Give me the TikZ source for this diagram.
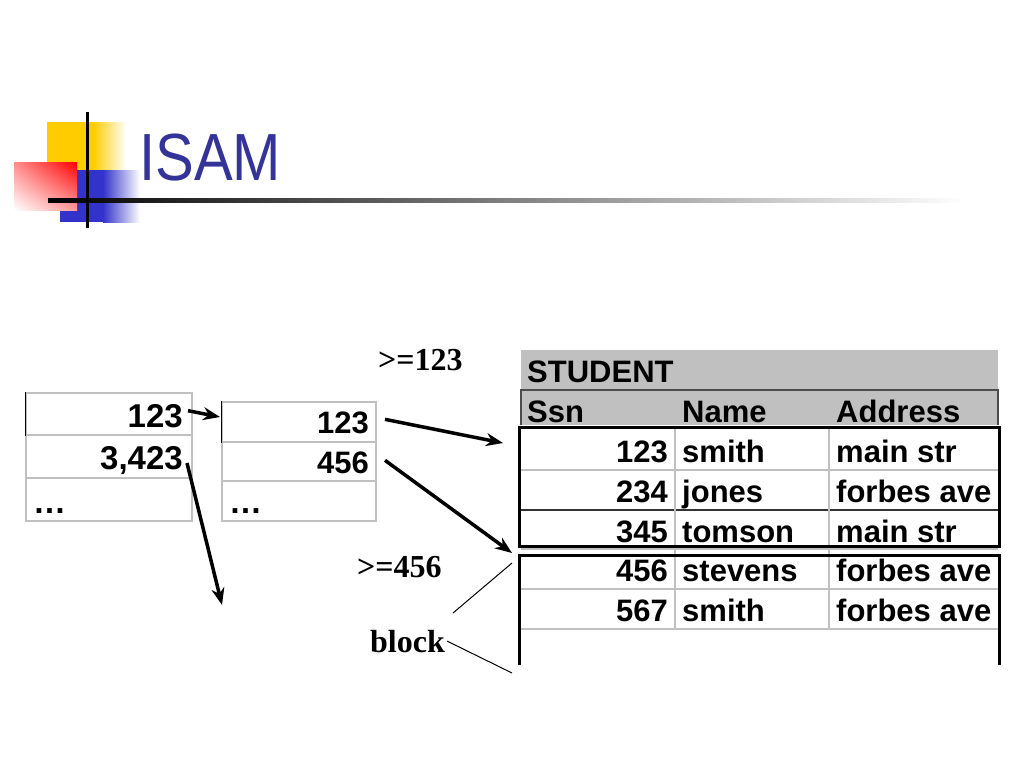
\documentclass[tikz,border=0pt]{standalone}
\usepackage{fontspec}
\setmainfont{Liberation Sans}
\newfontfamily\timesfont{Liberation Serif}
\usetikzlibrary{arrows.meta, shadings}
\definecolor{isamblue}{RGB}{51,51,153}
\definecolor{gridgray}{RGB}{192,192,192}
\definecolor{logoyellow}{RGB}{255,204,0}
\definecolor{logoblue}{RGB}{51,51,204}
\tikzstyle{arrow} = [line width=3.5pt,-{Stealth[length=17pt,width=13pt]}]
\tikzstyle{cell} = [draw=gridgray, line width=1.2pt, inner sep=0pt]
\tikzstyle{val} = [inner sep=0pt, font=\fontsize{31}{36}\selectfont\bfseries]
\tikzstyle{bigval} = [inner sep=0pt, font=\fontsize{33}{38}\selectfont\bfseries]
\tikzstyle{lbl} = [inner sep=2pt, font=\timesfont\fontsize{32}{38}\selectfont\bfseries]

\begin{document}
\begin{tikzpicture}[x=1pt, y=-1pt]
        \useasboundingbox (0,0) rectangle (1024,768);
        % Logo
        \fill[logoyellow] (47,122) rectangle (94,170);
        \shade[left color=logoyellow, right color=white] (93,122) rectangle (126,170);
        \fill[logoblue] (60,170) rectangle (104,222);
        \shade[left color=logoblue, right color=white] (103,170) rectangle (140,222);
        \shade[upper right=red, upper left=red!45!white, lower right=red!40!white, lower left=white] (14,162) rectangle (77,210);
        \shade[left color=black, middle color=black!60, right color=white] (48,198) rectangle (965,202);
        \draw[line width=3pt] (87,112) -- (87,228);
        \node[anchor=base west, inner sep=0pt, text=isamblue, font=\fontsize{58}{66}\selectfont] (title) at (139,180) {\scalebox{1}[1.15]{ISAM}};

        % Root index page
        \node[cell, minimum width=166pt, minimum height=42pt] (l1) at (109,414) {};
        \node[cell, minimum width=166pt, minimum height=43pt] (l2) at (109,456.5) {};
        \node[cell, minimum width=166pt, minimum height=43pt] (l3) at (109,499.5) {};
        \draw[line width=1pt] (l1.north west) -- (l1.south west);
        \node[bigval, anchor=base east] (la) at (183,427) {123};
        \node[bigval, anchor=base east] (lb) at (183,469) {3,423};
        \node[bigval, anchor=base west] (lc) at (33,513) {\dots};

        % Second level index page
        \node[cell, minimum width=154pt, minimum height=40pt] (m1) at (299,422) {};
        \node[cell, minimum width=154pt, minimum height=39pt] (m2) at (299,461.5) {};
        \node[cell, minimum width=154pt, minimum height=40pt] (m3) at (299,501) {};
        \draw[line width=1pt] (m1.north west) -- (m1.south west);
        \node[val, anchor=base east] (ma) at (369,433) {123};
        \node[val, anchor=base east] (mb) at (369,473) {456};
        \node[bigval, anchor=base west] (mc) at (229,513) {\dots};

        % Student table
        \fill[gridgray] (521,350) rectangle (998,425);
        \draw[black!70, line width=1.5pt] (521,425) -- (521,390) -- (998,390) -- (998,425);
        \node[val, anchor=base west] (tname) at (527,382) {STUDENT};
        \node[val, anchor=base west] (hssn) at (527,422) {Ssn};
        \node[val, anchor=base west] (hname) at (682,422) {Name};
        \node[val, anchor=base west] (haddr) at (836,422) {Address};
        \foreach \y in {470,549,589,629}
            \draw[gridgray, line width=1.2pt] (521,\y) -- (998,\y);
        \draw[black!80, line width=1.2pt] (521,510) -- (998,510);
        \foreach \x in {675,829}
            \draw[gridgray, line width=1.2pt] (\x,427) -- (\x,629);
        \foreach \y/\s/\n/\a [count=\i] in {462/123/smith/main str, 502/234/jones/forbes ave, 542/345/tomson/main str, 581/456/stevens/forbes ave, 621/567/smith/forbes ave} {
            \node[val, anchor=base east] (ssn\i) at (668,\y) {\s};
            \node[val, anchor=base west] (name\i) at (682,\y) {\n};
            \node[val, anchor=base west] (addr\i) at (836,\y) {\a};
        }
        % Blocks
        \draw[line width=3pt] (519,427) rectangle (999,546);
        \draw[line width=3pt] (519,665) -- (519,555) -- (999,555) -- (999,665);

        % Labels
        \node[lbl, anchor=base west] (ge1) at (376,370) {>=123};
        \node[lbl, anchor=base west] (ge2) at (355,577) {>=456};
        \node[lbl, anchor=base west] (blk) at (368,652) {block};

        % Pointers
        \coordinate (p1) at (220,417);
        \coordinate (p2) at (222,605);
        \coordinate (p3) at (503,443);
        \coordinate (p4) at (512,553);
        \draw[arrow] ([shift={(5,-5)}]la.east) -- (p1);
        \draw[arrow] ([shift={(4,3)}]lb.east) -- (p2);
        \draw[arrow] ([shift={(16,-3)}]ma.east) -- (p3);
        \draw[arrow] ([shift={(16,-2)}]mb.east) -- (p4);

        % Block marks
        \coordinate (q1) at (453,613);
        \coordinate (q2) at (512,563);
        \coordinate (q3) at (512,673);
        \draw[line width=1pt] (q1) -- (q2);
        \draw[line width=1pt] (blk.east) -- (q3);
      \end{tikzpicture}
\end{document}
